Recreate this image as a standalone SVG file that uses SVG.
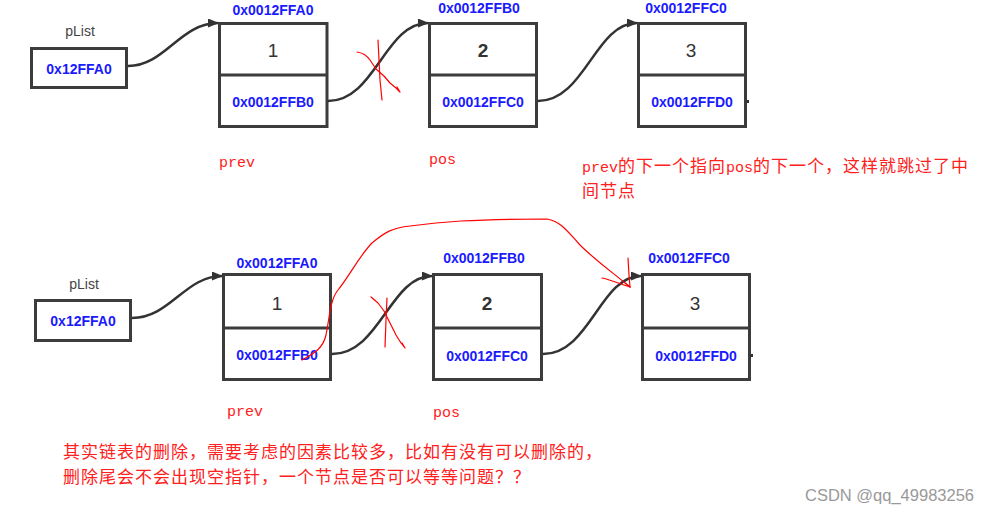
<svg xmlns="http://www.w3.org/2000/svg" width="990" height="513" viewBox="0 0 990 513">
<defs>
<style>
.box{fill:#fff;stroke:#3c3c3c;stroke-width:3}
.div{stroke:#3c3c3c;stroke-width:3}
.addr{font-family:"Liberation Sans",Arial,sans-serif;font-weight:bold;font-size:14px;fill:#1a1aff;text-anchor:middle}
.num{font-family:"Liberation Sans",Arial,sans-serif;font-size:19px;fill:#333;text-anchor:middle}
.pl{font-family:"Liberation Sans",Arial,sans-serif;font-size:14px;fill:#444;text-anchor:middle}
.conn{fill:none;stroke:#333;stroke-width:2.5;marker-end:url(#arr)}
.red{fill:none;stroke:#ff0000;stroke-width:1.2;stroke-linejoin:round;stroke-linecap:round}
.var{font-family:"Liberation Mono",monospace;font-size:15px;fill:#ff2020}
.note{font-family:"Noto Sans CJK SC",sans-serif;font-size:17px;letter-spacing:1px;fill:#ff2020}
.lat{font-family:"Liberation Mono",monospace;font-size:15px;letter-spacing:0}
.wm{font-family:"Liberation Sans",Arial,sans-serif;font-size:16px;fill:#999}
</style>
<marker id="arr" markerUnits="userSpaceOnUse" markerWidth="11" markerHeight="9" refX="10" refY="4.5" orient="auto">
<path d="M0,0 L11,4.5 L0,9 z" fill="#333"/>
</marker>
</defs>

<!-- top row -->
<g id="plist-top">
<text class="pl" x="80" y="36">pList</text>
<rect class="box" x="31.5" y="48.5" width="95" height="39"/>
<text class="addr" x="79" y="74">0x12FFA0</text>
</g>
<g id="node1-top">
<text class="addr" x="273" y="15">0x0012FFA0</text>
<rect class="box" x="219.5" y="23.5" width="107.5" height="103"/>
<line class="div" x1="219.5" y1="75" x2="327" y2="75"/>
<text class="num" x="273" y="57">1</text>
<text class="addr" x="273" y="107">0x0012FFB0</text>
</g>
<g id="node2-top">
<text class="addr" x="479" y="13">0x0012FFB0</text>
<rect class="box" x="429.5" y="23.5" width="107" height="103"/>
<line class="div" x1="429.5" y1="75" x2="536.5" y2="75"/>
<text class="num" x="483" y="57" font-weight="bold">2</text>
<text class="addr" x="483" y="107">0x0012FFC0</text>
</g>
<g id="node3-top">
<text class="addr" x="686" y="13">0x0012FFC0</text>
<rect class="box" x="638.5" y="23.5" width="107" height="103"/>
<line class="div" x1="638.5" y1="75" x2="745.5" y2="75"/>
<text class="num" x="691" y="57" fill="#555">3</text>
<text class="addr" x="692" y="107">0x0012FFD0</text>
<rect x="746" y="100" width="3" height="3" fill="#333"/>
</g>

<!-- bottom row -->
<g id="plist-bottom">
<text class="pl" x="84" y="289">pList</text>
<rect class="box" x="35.5" y="300.5" width="95" height="40"/>
<text class="addr" x="83" y="326">0x12FFA0</text>
</g>
<g id="node1-bottom">
<text class="addr" x="277" y="268">0x0012FFA0</text>
<rect class="box" x="223.5" y="274.5" width="107" height="105"/>
<line class="div" x1="223.5" y1="328" x2="330.5" y2="328"/>
<text class="num" x="277" y="310">1</text>
<text class="addr" x="277" y="360">0x0012FFB0</text>
</g>
<g id="node2-bottom">
<text class="addr" x="484" y="263">0x0012FFB0</text>
<rect class="box" x="433.5" y="274.5" width="108" height="105"/>
<line class="div" x1="433.5" y1="328" x2="541.5" y2="328"/>
<text class="num" x="487" y="310" font-weight="bold">2</text>
<text class="addr" x="487" y="361">0x0012FFC0</text>
</g>
<g id="node3-bottom">
<text class="addr" x="689" y="263">0x0012FFC0</text>
<rect class="box" x="642.5" y="274.5" width="107" height="105"/>
<line class="div" x1="642.5" y1="328" x2="749.5" y2="328"/>
<text class="num" x="695" y="310" fill="#555">3</text>
<text class="addr" x="696" y="361">0x0012FFD0</text>
<rect x="750" y="354" width="3" height="3" fill="#333"/>
</g>

<!-- connectors -->
<g id="connectors">
<path class="conn" d="M128,66 C165,66 180,23 218,23"/>
<path class="conn" d="M328,101 C375,101 385,23 428,23"/>
<path class="conn" d="M538,101 C585,101 595,23 637,23"/>
<path class="conn" d="M132,318 C170,318 185,276 222,276"/>
<path class="conn" d="M332,354 C380,354 390,276 432,276"/>
<path class="conn" d="M543,354 C590,354 600,276 641,276"/>
</g>

<!-- red hand annotations -->
<g id="red-marks">
<path class="red" d="M378,40 L379,60 L380,80 L381,90 L382,100"/>
<path class="red" d="M357,52 Q365,53 370,60 L376,69 L384,76 L390,83 L396,88 L400,92 L397,87"/>
<path class="red" d="M387,298 L386,320 L385,347"/>
<path class="red" d="M371,297 L378,303 L384,311 L390,323 L396,335 L401,343 L405,348 L402,343"/>
<path class="red" d="M302,360 C315,353 323,348 326,335 C330,315 330,300 338,290 C350,275 360,255 372,243 C385,232 392,228 410,226 C440,222 470,219 547,219 C562,222 568,232 580,245 C595,260 612,272 630,287"/>
<path class="red" d="M628,258 L629,275 L630,287"/>
<path class="red" d="M602,278 C612,280 620,284 630,287 L625,283"/>
</g>

<!-- labels -->
<text class="var" x="219" y="167">prev</text>
<text class="var" x="429" y="164">pos</text>
<text class="var" x="227" y="416">prev</text>
<text class="var" x="433" y="417">pos</text>

<text class="note" x="582" y="172"><tspan class="lat">prev</tspan>的下一个指向<tspan class="lat">pos</tspan>的下一个，这样就跳过了中</text>
<text class="note" x="582" y="197">间节点</text>

<text class="note" x="63" y="458">其实链表的删除，需要考虑的因素比较多，比如有没有可以删除的，</text>
<text class="note" x="63" y="483">删除尾会不会出现空指针，一个节点是否可以等等问题？？</text>

<text class="wm" x="805" y="501" textLength="169" lengthAdjust="spacingAndGlyphs">CSDN @qq_49983256</text>
</svg>
